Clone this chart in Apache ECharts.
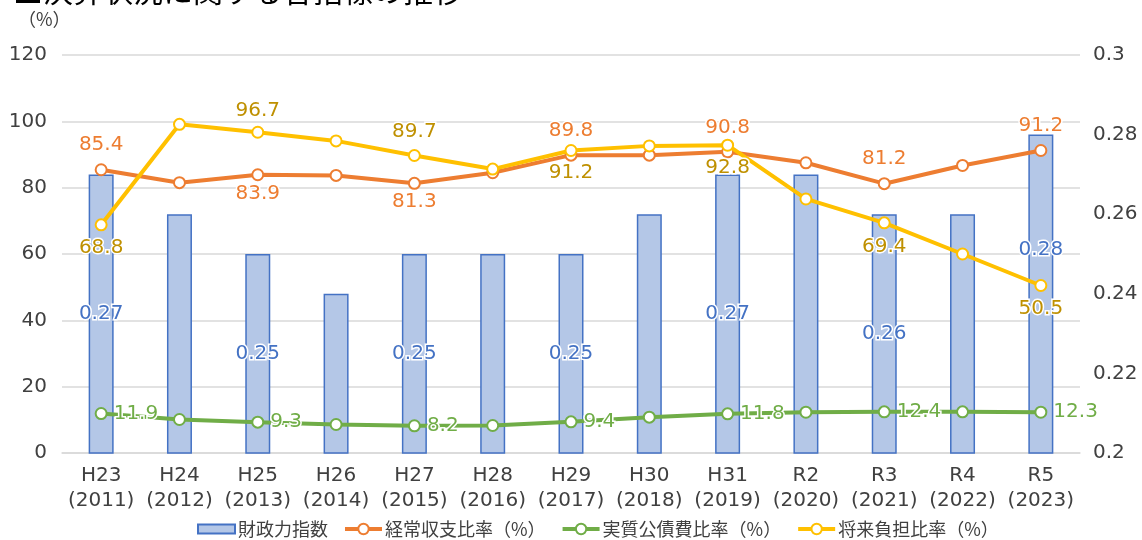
<!DOCTYPE html>
<html><head><meta charset="utf-8">
<script src="https://cdn.jsdelivr.net/npm/echarts@6/dist/echarts.min.js"></script>
<style>html,body{margin:0;padding:0;background:#fff;}#c{width:1142px;height:540px;}</style>
</head><body><div id="c"></div>
<script>
const eras = ['H23','H24','H25','H26','H27','H28','H29','H30','H31','R2','R3','R4','R5'];
const years = ['2011','2012','2013','2014','2015','2016','2017','2018','2019','2020','2021','2022','2023'];
const fiscalIndex = [0.27,0.26,0.25,0.24,0.25,0.25,0.25,0.26,0.27,0.27,0.26,0.26,0.28];
const currentRatio = [85.4,81.5,83.9,83.7,81.3,84.5,89.8,89.8,90.8,87.5,81.2,86.7,91.2];
const debtRatio = [11.9,10.1,9.3,8.6,8.2,8.3,9.4,10.8,11.8,12.3,12.4,12.4,12.3];
const futureRatio = [68.8,99.1,96.7,94.1,89.7,85.6,91.2,92.6,92.8,76.6,69.4,60.0,50.5];
const leftTicks = [0,20,40,60,80,100,120];
const rightTicks = [0.2,0.22,0.24,0.26,0.28,0.3];
const seriesNames = ['財政力指数','経常収支比率（%）','実質公債費比率（%）','将来負担比率（%）'];

const FONT = '"DejaVu Sans","Noto Sans CJK JP",sans-serif';
const FONT_JP = '"Noto Sans CJK JP","Noto Sans",sans-serif';
const C_BAR = '#4472C4', C_OR = '#ED7D31', C_GR = '#70AD47', C_YE = '#FFC000';

function withLabels(vals, cfg, color, fmt) {
  return vals.map((v, i) => {
    const c = cfg[i];
    if (!c) return { value: v, label: { show: false } };
    return { value: v, label: Object.assign({
      show: true, color: color, fontSize: 20, fontFamily: FONT,
      textBorderColor: '#fff', textBorderWidth: 3,
      formatter: fmt
    }, c) };
  });
}
const T = d => ({ position: 'top', distance: d });
const B = d => ({ position: 'bottom', distance: d });
const R = { position: 'right', distance: 6 };
const barCfg = {0:{position:'inside'},2:{position:'inside'},4:{position:'inside'},6:{position:'inside'},8:{position:'inside'},10:{position:'inside'},12:{position:'inside',offset:[0,-44]}};
const orCfg = {0:T(8),2:B(3),4:B(2),6:T(8),8:T(8),10:T(8),12:T(8)};
const yeCfg = {0:B(6),2:T(5),4:T(7),6:B(6),8:B(6),10:B(7),12:B(7)};
const grCfg = {0:R,2:R,4:R,6:R,8:R,10:R,12:R};

const chart = echarts.init(document.getElementById('c'));
chart.setOption({
  backgroundColor: '#fff',
  textStyle: { fontFamily: FONT },
  animation: false,
  graphic: [
    { type: 'text', left: 13, top: -24, style: { text: '■決算状況に関する各指標の推移', fontSize: 30, fill: '#000', fontFamily: FONT_JP } },
    { type: 'text', left: 18, top: 10, style: { text: '（%）', fontSize: 18, fill: '#404040', fontFamily: FONT_JP } }
  ],
  grid: { left: 62, right: 62, top: 55, bottom: 87 },
  legend: {
    top: 515, left: 192, itemWidth: 37, itemHeight: 13, itemGap: 15,
    lineStyle: { width: 4 },
    textStyle: { fontSize: 18, color: '#404040', fontFamily: FONT_JP, padding: [0, 0, 0, -2] },
    data: [
      { name: seriesNames[0], icon: 'path://M0,0h37v9h-37z' },
      { name: seriesNames[1] },
      { name: seriesNames[2] },
      { name: seriesNames[3] }
    ]
  },
  xAxis: {
    type: 'category',
    data: eras.map((e, i) => e + '\n(' + years[i] + ')'),
    axisLine: { lineStyle: { color: '#D9D9D9', width: 1.5 } },
    axisTick: { show: false },
    axisLabel: { fontSize: 20, color: '#404040', lineHeight: 25, margin: 10, fontFamily: FONT, interval: 0 }
  },
  yAxis: [
    { type: 'value', min: leftTicks[0], max: leftTicks[leftTicks.length-1], interval: 20,
      axisLine: { show: false }, axisTick: { show: false },
      splitLine: { lineStyle: { color: '#D9D9D9', width: 1.5 } },
      axisLabel: { fontSize: 20, color: '#404040', margin: 15, fontFamily: FONT } },
    { type: 'value', min: rightTicks[0], max: rightTicks[rightTicks.length-1], interval: 0.02,
      axisLine: { show: false }, axisTick: { show: false }, splitLine: { show: false },
      axisLabel: { fontSize: 20, color: '#404040', margin: 13, fontFamily: FONT,
        formatter: v => String(+v.toFixed(2)) } }
  ],
  series: [
    { name: seriesNames[0], type: 'bar', yAxisIndex: 1, barWidth: 25,
      itemStyle: { color: '#B4C7E7', borderColor: C_BAR, borderWidth: 1.5 },
      data: withLabels(fiscalIndex, barCfg, C_BAR, p => p.value.toFixed(2)), z: 1 },
    { name: seriesNames[1], type: 'line', yAxisIndex: 0, symbol: 'emptyCircle', symbolSize: 11,
      lineStyle: { color: C_OR, width: 4 }, itemStyle: { color: C_OR, borderWidth: 1.5 },
      data: withLabels(currentRatio, orCfg, C_OR, p => p.value.toFixed(1)), z: 3 },
    { name: seriesNames[2], type: 'line', yAxisIndex: 0, symbol: 'emptyCircle', symbolSize: 11,
      lineStyle: { color: C_GR, width: 4 }, itemStyle: { color: C_GR, borderWidth: 1.5 },
      data: withLabels(debtRatio, grCfg, C_GR, p => p.value.toFixed(1)), z: 3 },
    { name: seriesNames[3], type: 'line', yAxisIndex: 0, symbol: 'emptyCircle', symbolSize: 11,
      lineStyle: { color: C_YE, width: 4 }, itemStyle: { color: C_YE, borderWidth: 1.5 },
      data: withLabels(futureRatio, yeCfg, '#BF9000', p => p.value.toFixed(1)), z: 4 }
  ]
});
</script></body></html>
